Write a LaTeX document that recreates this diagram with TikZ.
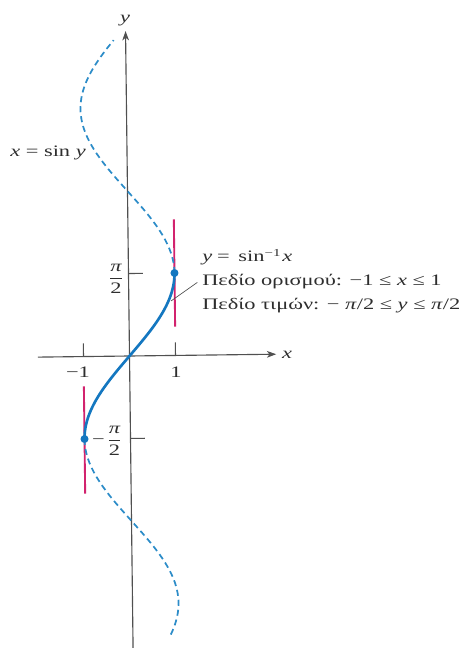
\documentclass[tikz,border=0pt]{standalone}
\usepackage{amsmath}
\usepackage{fontspec}
\setmainfont{Liberation Serif}[FakeStretch=1.4]
\usetikzlibrary{arrows.meta}
\definecolor{axisgray}{HTML}{505050}
\definecolor{txtgray}{HTML}{2E2E2E}
\definecolor{curveblue}{HTML}{1477C0}
\definecolor{dashblue}{HTML}{2C8CC8}
\definecolor{domainmag}{HTML}{D2236E}
\tikzset{
  axisline/.style={draw=axisgray, line width=0.85pt},
  axisarrow/.style={axisline, -{Stealth[length=7pt,width=5pt,inset=2pt]}},
  tickline/.style={draw=axisgray, line width=0.8pt},
  magline/.style={draw=domainmag, line width=1.4pt},
  dashcurve/.style={draw=dashblue, line width=1.3pt, dash pattern=on 4.5pt off 3pt},
  solidcurve/.style={draw=curveblue, line width=2pt},
  enddot/.style={circle, fill=curveblue, inner sep=0pt, minimum size=6pt},
  leaderline/.style={draw=axisgray, line width=0.5pt},
  lbl/.style={text=txtgray, inner sep=0pt, font=\fontsize{12pt}{14pt}\selectfont},
}
\begin{document}
\begin{tikzpicture}[x=0.75pt, y=-0.75pt]
\useasboundingbox (0,0) rectangle (475,648);
\coordinate (O) at (129.5,356);
\begin{scope}[shift={(O)}, rotate=0.7, x=34.5pt, y=39.375pt]
  % axes
  \coordinate (xl) at (-1.99,0);
  \coordinate (xr) at (3.19,0);
  \coordinate (yb) at (0,-5.8);
  \coordinate (yt) at (0,6.19);
  \draw[axisarrow] (xl) -- (xr);
  \draw[axisarrow] (yb) -- (yt);
  % ticks
  \coordinate (tp1) at (1,0);
  \coordinate (tm1) at (-1,0);
  \coordinate (tpp) at (0,{pi/2});
  \coordinate (tmp) at (0,{-pi/2});
  \draw[tickline] (tp1) -- ++(0,0.25);
  \draw[tickline] (tm1) -- ++(0,0.25);
  \draw[tickline] (tpp) -- ++(0.31,0);
  \draw[tickline] (tmp) -- ++(0.31,0);
  % magenta domain/range bars
  \coordinate (ma) at (1,0.55);
  \coordinate (mb) at (1,2.59);
  \coordinate (mc) at (-1,-0.57);
  \coordinate (md) at (-1,-2.61);
  \draw[magline] (ma) -- (mb);
  \draw[magline] (mc) -- (md);
  % curves
  \draw[dashcurve] plot[domain={pi/2}:6.02, samples=90, variable=\t] ({sin(\t r)},\t);
  \draw[dashcurve] plot[domain={-pi/2}:-5.38, samples=90, variable=\t] ({sin(\t r)},\t);
  \draw[solidcurve] plot[domain={-pi/2}:{pi/2}, samples=90, variable=\t] ({sin(\t r)},\t);
  % end points
  \node[enddot] (p1) at (1,{pi/2}) {};
  \node[enddot] (p2) at (-1,{-pi/2}) {};
  % leader start
  \coordinate (ls) at (0.92,1.04);
\end{scope}
% labels
\node[lbl] (ylab) at (125,21) {\textit{y}};
\node[lbl] (xlab) at (287,355) {\textit{x}};
\node[lbl, anchor=base east] (curvelab) at (86,157) {\textit{x} = sin \textit{y}};
\node[lbl] (pihalf) at (116,279) {$\displaystyle\frac{\textit{π}}{\text{2}}$};
\node[lbl, anchor=east] (mpihalf) at (122,441) {−\,$\displaystyle\frac{\textit{π}}{\text{2}}$};
\node[lbl] (mone) at (78,372) {−1};
\node[lbl] (one) at (176,372) {1};
\node[lbl, anchor=base west] (l1) at (202,262) {\textit{y}\hspace{0.3em}=\hspace{0.55em}sin\textsuperscript{−1}\hspace{0.08em}\textit{x}};
\node[lbl, anchor=base west] (l2) at (202,285) {Πεδίο ορισμού: −1 ≤ \textit{x} ≤ 1};
\node[lbl, anchor=base west] (l3) at (202,309) {Πεδίο τιμών: − \textit{π}/2 ≤ \textit{y} ≤ \textit{π}/2};
\draw[leaderline] (ls) -- ([xshift=-3.5pt,yshift=-1pt]l2.west);
\end{tikzpicture}
\end{document}
